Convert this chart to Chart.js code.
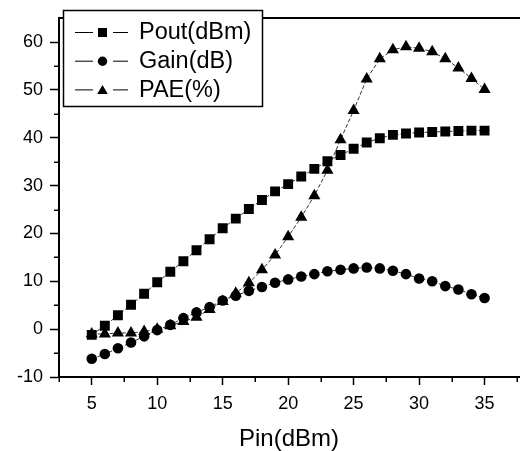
<!DOCTYPE html>
<html>
<head>
<meta charset="utf-8">
<script src="https://cdn.jsdelivr.net/npm/chart.js@4/dist/chart.umd.min.js"></script>
<style>
  html, body { margin: 0; padding: 0; background: #fff; }
  #wrap { width: 526px; height: 451px; }
</style>
</head>
<body>
<div id="wrap"><canvas id="c" width="526" height="451"></canvas></div>
<script>
// ---- data ----
const pin = [5,6,7,8,9,10,11,12,13,14,15,16,17,18,19,20,21,22,23,24,25,26,27,28,29,30,31,32,33,34,35];
const pout = [-1.2,0.7,2.9,5.1,7.4,9.8,12.0,14.2,16.5,18.8,21.1,23.1,25.1,27.0,28.8,30.3,31.9,33.5,35.1,36.4,37.7,39.0,39.9,40.6,40.9,41.1,41.2,41.3,41.4,41.5,41.5];
const gain = [-6.2,-5.2,-4.0,-2.8,-1.5,-0.2,0.9,2.3,3.5,4.6,6.0,7.0,8.0,8.8,9.7,10.4,11.0,11.5,12.1,12.4,12.7,12.9,12.7,12.2,11.5,10.6,10.0,9.0,8.3,7.3,6.5];
const pae = [-1.0,-1.0,-0.8,-0.8,-0.5,0.0,0.7,1.6,2.5,4.1,5.8,7.5,9.7,12.4,15.5,19.3,23.4,27.9,33.2,39.6,45.7,52.3,56.5,58.4,59.0,58.7,58.0,56.5,54.6,52.4,50.1];
const seriesLabels = ['Pout(dBm)', 'Gain(dB)', 'PAE(%)'];
const xTickLabels = [5,10,15,20,25,30,35];
const yTickLabels = [-10,0,10,20,30,40,50,60];
const xMinorTicks = [2.5,7.5,12.5,17.5,22.5,27.5,32.5,37.5];
const yMinorTicks = [-5,5,15,25,35,45,55];
const xTitle = 'Pin(dBm)';

const FONT = '"Liberation Sans", Arial, Helvetica, sans-serif';
const XMIN = 2.5, XMAX = 37.63, YMIN = -10, YMAX = 65.07;

function pts(arr) { return pin.map((p, i) => ({ x: p, y: arr[i] })); }

const styles = ['rect', 'circle', 'triangle'];
const radii = [7, 5.3, 7];
const datasets = [pout, gain, pae].map((arr, i) => ({
  label: seriesLabels[i],
  data: pts(arr),
  showLine: true,
  borderColor: '#333',
  borderWidth: 1,
  borderDash: [4, 2],
  pointStyle: styles[i],
  pointRadius: radii[i],
  pointBackgroundColor: '#000',
  pointBorderColor: '#000',
  pointBorderWidth: 0,
  tension: 0
}));

const extras = {
  id: 'extras',
  afterDraw(chart) {
    const ctx = chart.ctx;
    const xs = chart.scales.x, ys = chart.scales.y;
    const ca = chart.chartArea;
    ctx.save();
    ctx.strokeStyle = '#000';
    ctx.lineWidth = 1.5;
    // minor ticks
    xMinorTicks.forEach(v => {
      const px = Math.round(xs.getPixelForValue(v)) + 0.25;
      ctx.beginPath(); ctx.moveTo(px, ca.bottom); ctx.lineTo(px, ca.bottom + 5); ctx.stroke();
    });
    yMinorTicks.forEach(v => {
      const py = Math.round(ys.getPixelForValue(v)) + 0.25;
      ctx.beginPath(); ctx.moveTo(ca.left - 5, py); ctx.lineTo(ca.left, py); ctx.stroke();
    });
    // legend box
    const bx = 63.5, by = 10.5, bw = 199, bh = 96;
    ctx.fillStyle = '#fff';
    ctx.fillRect(bx, by, bw, bh);
    ctx.lineWidth = 1.5;
    ctx.strokeRect(bx, by, bw, bh);
    const rows = [32, 60.7, 89.4];
    chart.data.datasets.forEach((ds, i) => {
      const y = rows[i];
      ctx.strokeStyle = '#000';
      ctx.lineWidth = 1;
      ctx.beginPath();
      ctx.moveTo(75, y + 0.5); ctx.lineTo(93, y + 0.5);
      ctx.moveTo(113, y + 0.5); ctx.lineTo(128, y + 0.5);
      ctx.stroke();
      ctx.fillStyle = '#000';
      const cx = 102.5;
      ctx.beginPath();
      if (ds.pointStyle === 'rect') {
        ctx.rect(cx - 4.5, y - 4, 9, 9);
      } else if (ds.pointStyle === 'circle') {
        ctx.arc(cx, y + 0.5, 4.7, 0, Math.PI * 2);
      } else {
        ctx.moveTo(cx, y - 4.5);
        ctx.lineTo(cx + 5.3, y + 4.5);
        ctx.lineTo(cx - 5.3, y + 4.5);
        ctx.closePath();
      }
      ctx.fill();
      ctx.font = '23.5px ' + FONT;
      ctx.textBaseline = 'middle';
      ctx.textAlign = 'left';
      ctx.fillText(ds.label, 139, y + 1);
    });
    ctx.restore();
  }
};

new Chart(document.getElementById('c'), {
  type: 'scatter',
  data: { datasets },
  options: {
    responsive: false,
    animation: false,
    devicePixelRatio: 1,
    layout: { padding: 0 },
    plugins: { legend: { display: false }, tooltip: { enabled: false } },
    scales: {
      x: {
        type: 'linear', position: 'bottom', min: XMIN, max: XMAX,
        afterBuildTicks: s => { s.ticks = xTickLabels.map(v => ({ value: v })); },
        afterFit: s => { s.height = 74; },
        grid: { display: true, drawOnChartArea: false, drawTicks: true, tickLength: 8, tickWidth: 1.5, tickColor: '#000' },
        border: { display: true, color: '#000', width: 2 },
        ticks: { color: '#000', font: { family: FONT, size: 18 }, padding: 8, maxRotation: 0, autoSkip: false },
        title: { display: true, text: xTitle, color: '#000', font: { family: FONT, size: 24, lineHeight: 1.0 }, padding: 0 }
      },
      xTop: {
        type: 'linear', position: 'top', min: XMIN, max: XMAX,
        afterFit: s => { s.height = 8; },
        grid: { display: false },
        ticks: { display: false },
        border: { display: true, color: '#000', width: 2 }
      },
      y: {
        type: 'linear', position: 'left', min: YMIN, max: YMAX,
        afterBuildTicks: s => { s.ticks = yTickLabels.map(v => ({ value: v })); },
        afterFit: s => { s.width = 59; },
        grid: { display: true, drawOnChartArea: false, drawTicks: true, tickLength: 9, tickWidth: 1.5, tickColor: '#000' },
        border: { display: true, color: '#000', width: 2 },
        ticks: { color: '#000', font: { family: FONT, size: 18 }, padding: 7 }
      }
    }
  },
  plugins: [extras]
});
</script>
</body>
</html>
